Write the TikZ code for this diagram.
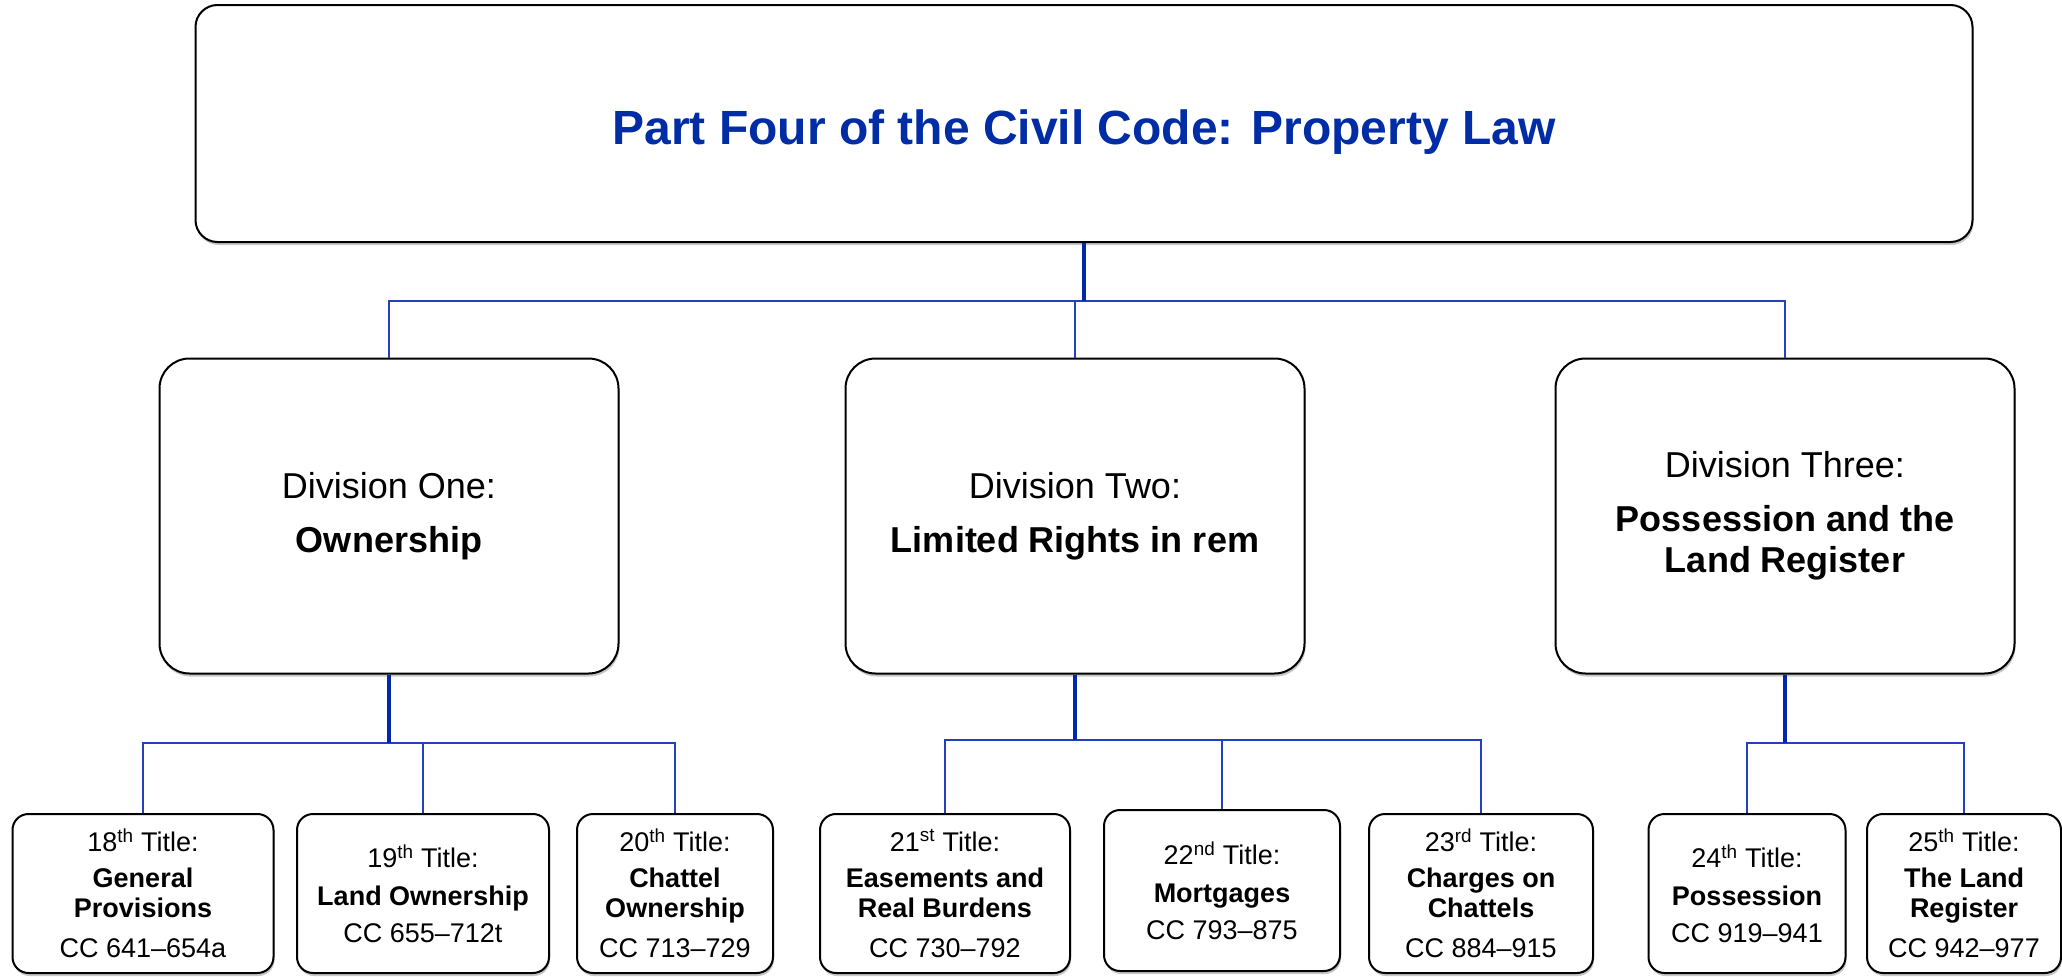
\documentclass[tikz,border=0pt]{standalone}
\usepackage{fontspec}
\setmainfont{Liberation Sans}
\usetikzlibrary{shadows}
\definecolor{titleblue}{RGB}{0,45,165}
\definecolor{trunkblue}{RGB}{0,40,170}
\definecolor{linkblue}{RGB}{35,65,190}
\tikzset{
 box/.style={draw=black, line width=2pt, fill=white, align=center, inner sep=0pt,
   general shadow={fill=black, opacity=0.22, shadow xshift=1pt, shadow yshift=-3pt}},
 topbox/.style={box, rounded corners=22pt, minimum width=1777pt, minimum height=237pt,
   font=\fontsize{48}{56}\selectfont\bfseries, text=titleblue, text height=46pt, text depth=5pt},
 divbox/.style={box, rounded corners=30pt, minimum width=459pt, minimum height=315pt,
   font=\fontsize{36}{41}\selectfont},
 titlebox/.style={box, rounded corners=16pt, minimum height=159pt,
   font=\fontsize{27}{30}\selectfont},
 trunk/.style={draw=trunkblue, line width=3.5pt},
 link/.style={draw=linkblue, line width=1.6pt},
}
\begin{document}
\begin{tikzpicture}[x=1pt,y=-1pt]
\useasboundingbox (0,0) rectangle (2062,977);

\node[topbox] (top) at (1084,123.5) {Part Four of the Civil Code: Property Law};

\node[divbox] (d1) at (389,516) {Division One:\\[13pt]\textbf{Ownership}};
\node[divbox, minimum height=315pt] (d2) at (1075,516) {Division Two:\\[13pt]\textbf{Limited Rights in rem}};
\node[divbox] (d3) at (1785,516) {Division Three:\\[13pt]\textbf{Possession and the}\\\textbf{Land Register}};

\node[titlebox, minimum width=261pt] (t18) at (143,893.5) {18\textsuperscript{th} Title:\\[6pt]\textbf{General}\\\textbf{Provisions}\\[10pt]CC 641--654a};
\node[titlebox, minimum width=252pt] (t19) at (423,893.5) {19\textsuperscript{th} Title:\\[8pt]\textbf{Land Ownership}\\[7pt]CC 655--712t};
\node[titlebox, minimum width=196pt] (t20) at (675,893.5) {20\textsuperscript{th} Title:\\[6pt]\textbf{Chattel}\\\textbf{Ownership}\\[10pt]CC 713--729};
\node[titlebox, minimum width=250pt] (t21) at (945,893.5) {21\textsuperscript{st} Title:\\[6pt]\textbf{Easements and}\\\textbf{Real Burdens}\\[10pt]CC 730--792};
\node[titlebox, minimum width=236pt, minimum height=161pt] (t22) at (1222,890.5) {22\textsuperscript{nd} Title:\\[8pt]\textbf{Mortgages}\\[7pt]CC 793--875};
\node[titlebox, minimum width=224pt] (t23) at (1481,893.5) {23\textsuperscript{rd} Title:\\[6pt]\textbf{Charges on}\\\textbf{Chattels}\\[10pt]CC 884--915};
\node[titlebox, minimum width=197pt] (t24) at (1747,893.5) {24\textsuperscript{th} Title:\\[8pt]\textbf{Possession}\\[7pt]CC 919--941};
\node[titlebox, minimum width=194pt] (t25) at (1964,893.5) {25\textsuperscript{th} Title:\\[6pt]\textbf{The Land}\\\textbf{Register}\\[10pt]CC 942--977};

% level 1 connectors
\coordinate (j0) at (1084,301);
\draw[link] (d1.north) |- (j0) -| (d3.north);
\draw[link] (d2.north) -- (d2.north |- j0);
\draw[trunk] (top.south) -- (j0);

% level 2 connectors
\coordinate (j1) at (389,743);
\draw[link] (t18.north) |- (j1) -| (t20.north);
\draw[link] (t19.north) -- (t19.north |- j1);
\draw[trunk] (d1.south) -- (j1);

\coordinate (j2) at (1075,740);
\draw[link] (t21.north) |- (j2) -| (t23.north);
\draw[link] (t22.north) -- (t22.north |- j2);
\draw[trunk] (d2.south) -- (j2);

\coordinate (j3) at (1785,743);
\draw[link] (t24.north) |- (j3) -| (t25.north);
\draw[trunk] (d3.south) -- (j3);
\end{tikzpicture}
\end{document}
